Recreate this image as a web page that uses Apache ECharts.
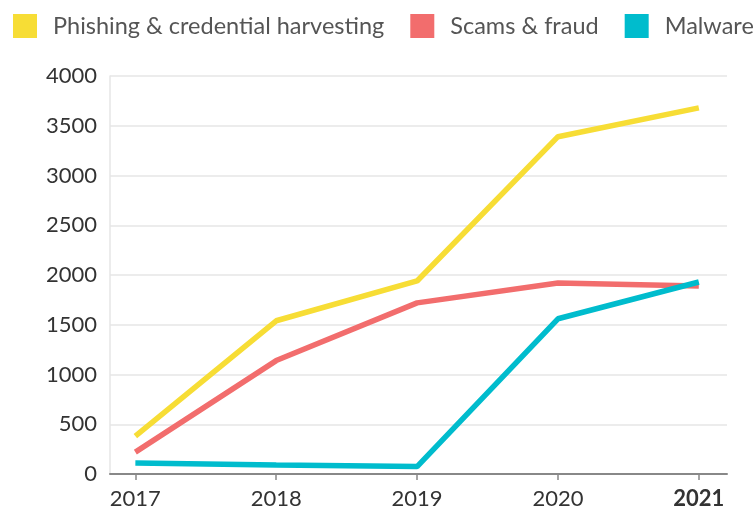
<!DOCTYPE html>
<html>
<head>
<meta charset="utf-8">
<script src="https://cdn.jsdelivr.net/npm/echarts@6/dist/echarts.min.js"></script>
<style>
  html, body { margin: 0; padding: 0; background: #fff; }
  #main { width: 753px; height: 510px; }
</style>
</head>
<body>
<div id="main"></div>
<script>
var years = [2017, 2018, 2019, 2020, 2021];
var seriesNames = ['Phishing & credential harvesting', 'Scams & fraud', 'Malware'];
var phishing = [380, 1540, 1940, 3390, 3680];
var scams = [220, 1140, 1720, 1920, 1890];
var malware = [110, 90, 75, 1560, 1930];
var colors = ['#F7DD35', '#F26D6D', '#00BCCD'];

var font = 'Lato';

function pairs(vals) {
  return years.map(function (y, i) { return [y, vals[i]]; });
}

var chart = echarts.init(document.getElementById('main'));
var option = {
  animation: false,
  color: colors,
  legend: {
    left: 13,
    top: 14,
    width: 760,
    padding: 0,
    itemWidth: 24,
    itemHeight: 24,
    itemGap: 26,
    icon: 'rect',
    textStyle: {
      fontFamily: font,
      fontSize: 23.5,
      color: '#555',
      padding: [0, 0, 0, 11]
    },
    data: seriesNames
  },
  grid: { left: 110, right: 26, top: 76, bottom: 35 },
  xAxis: {
    type: 'value',
    min: 2016.82,
    max: 2021.2,
    splitLine: { show: false },
    axisLine: { lineStyle: { color: '#888', width: 2 } },
    axisTick: { show: true, customValues: years, length: 6, lineStyle: { color: '#888', width: 1.5 } },
    axisLabel: {
      customValues: years,
      margin: 14,
      fontFamily: font,
      fontSize: 22,
      color: '#333',
      formatter: function (v) {
        return v === 2021 ? '{b|' + v + '}' : String(v);
      },
      rich: { b: { fontFamily: font, fontSize: 22, fontWeight: 'bold', color: '#333' } }
    }
  },
  yAxis: {
    type: 'value',
    min: 0,
    max: 4000,
    interval: 500,
    axisLine: { show: true, lineStyle: { color: '#e6e6e6', width: 1.5 } },
    axisTick: { show: false },
    splitLine: { lineStyle: { color: '#e6e6e6', width: 1.5 } },
    axisLabel: {
      margin: 13,
      fontFamily: font,
      fontSize: 22,
      color: '#333',
      formatter: function (v) { return String(v); }
    }
  },
  series: [
    { name: seriesNames[0], type: 'line', symbol: 'none', data: pairs(phishing), lineStyle: { width: 5.5 } },
    { name: seriesNames[1], type: 'line', symbol: 'none', data: pairs(scams), lineStyle: { width: 5.5 } },
    { name: seriesNames[2], type: 'line', symbol: 'none', data: pairs(malware), lineStyle: { width: 5.5 } }
  ]
};
chart.setOption(option);
</script>
</body>
</html>
